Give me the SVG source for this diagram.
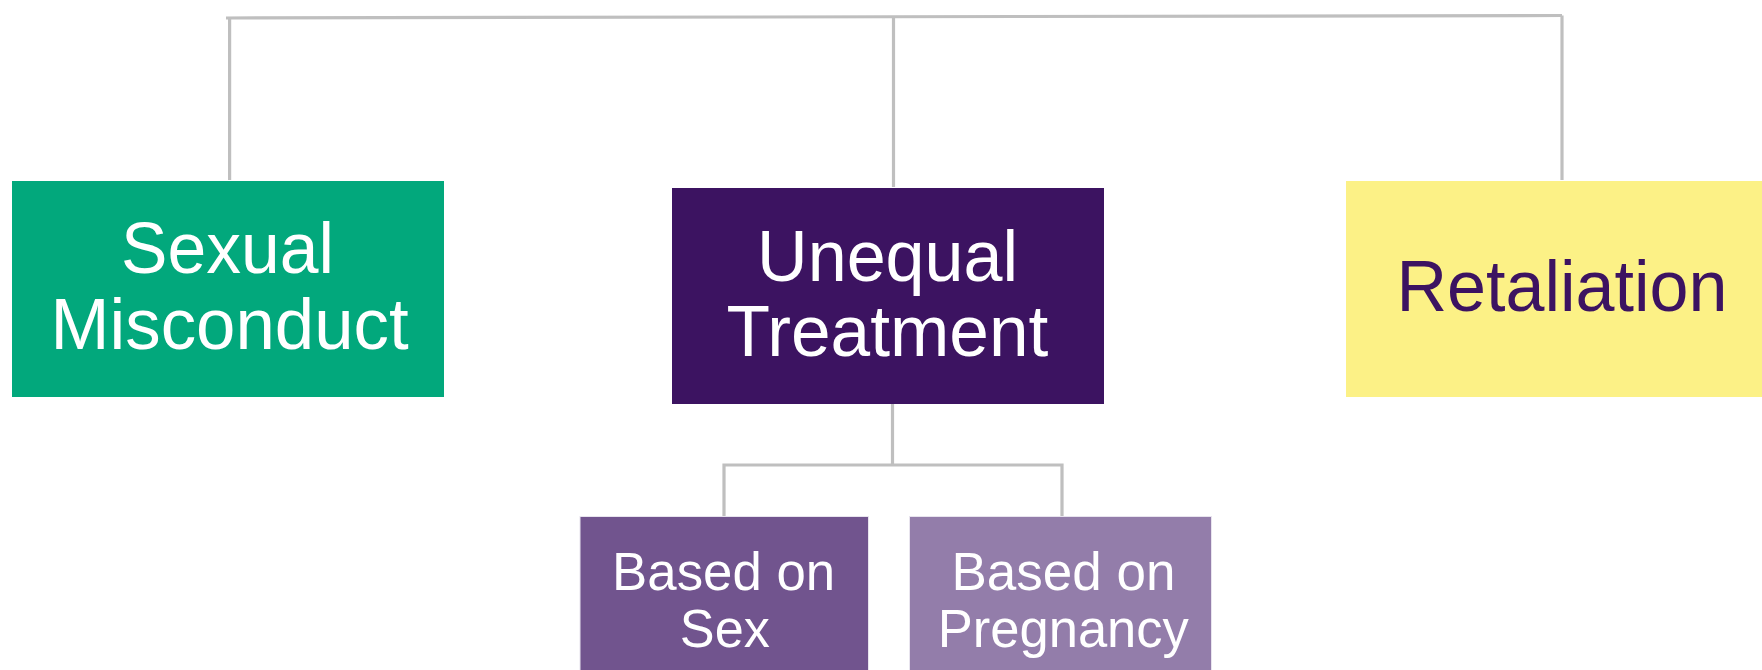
<svg xmlns="http://www.w3.org/2000/svg" width="1762" height="670" viewBox="0 0 1762 670">
<style>
.conn{fill:none;stroke:#BFBFBF;stroke-width:3.2}
.big{font-family:"Liberation Sans",Arial,sans-serif;font-size:73px;text-anchor:middle}
.small{font-family:"Liberation Sans",Arial,sans-serif;font-size:54px;text-anchor:middle;fill:#fff}
</style>
<rect width="1762" height="670" fill="#fff"/>
<g id="connectors">
<path class="conn" d="M226 18 L1562 15.5"/>
<path class="conn" d="M229.6 18 V180"/>
<path class="conn" d="M893.5 17 V187"/>
<path class="conn" d="M1562 15.5 V180"/>
<path class="conn" d="M892.5 404 V465 M724 516 V465 H1062 V516"/>
</g>
<g id="sexual-misconduct">
<rect x="12" y="181" width="432" height="216" fill="#02A87C"/>
<text class="big" fill="#fff" x="227.5" y="273" textLength="213" lengthAdjust="spacingAndGlyphs">Sexual</text>
<text class="big" fill="#fff" x="229.6" y="349" textLength="358" lengthAdjust="spacingAndGlyphs">Misconduct</text>
</g>
<g id="unequal-treatment">
<rect x="672" y="188" width="432" height="216" fill="#3C1361"/>
<text class="big" fill="#fff" x="887.6" y="281" textLength="261" lengthAdjust="spacingAndGlyphs">Unequal</text>
<text class="big" fill="#fff" x="887.4" y="356" textLength="322" lengthAdjust="spacingAndGlyphs">Treatment</text>
</g>
<g id="retaliation">
<rect x="1346" y="181" width="432" height="216" fill="#FCF186"/>
<text class="big" fill="#3C1361" x="1562" y="311" textLength="331" lengthAdjust="spacingAndGlyphs">Retaliation</text>
</g>
<g id="based-on-sex">
<rect x="580" y="516.5" width="288.5" height="160" fill="#71548E" stroke="#E8E4EE" stroke-width="1"/>
<text class="small" x="723.6" y="590" textLength="223" lengthAdjust="spacingAndGlyphs">Based on</text>
<text class="small" x="724.8" y="646.7" textLength="90" lengthAdjust="spacingAndGlyphs">Sex</text>
</g>
<g id="based-on-pregnancy">
<rect x="909.5" y="516.5" width="302" height="160" fill="#937DAA" stroke="#E8E4EE" stroke-width="1"/>
<text class="small" x="1063.4" y="590" textLength="224" lengthAdjust="spacingAndGlyphs">Based on</text>
<text class="small" x="1063.3" y="646.7" textLength="251" lengthAdjust="spacingAndGlyphs">Pregnancy</text>
</g>
</svg>
